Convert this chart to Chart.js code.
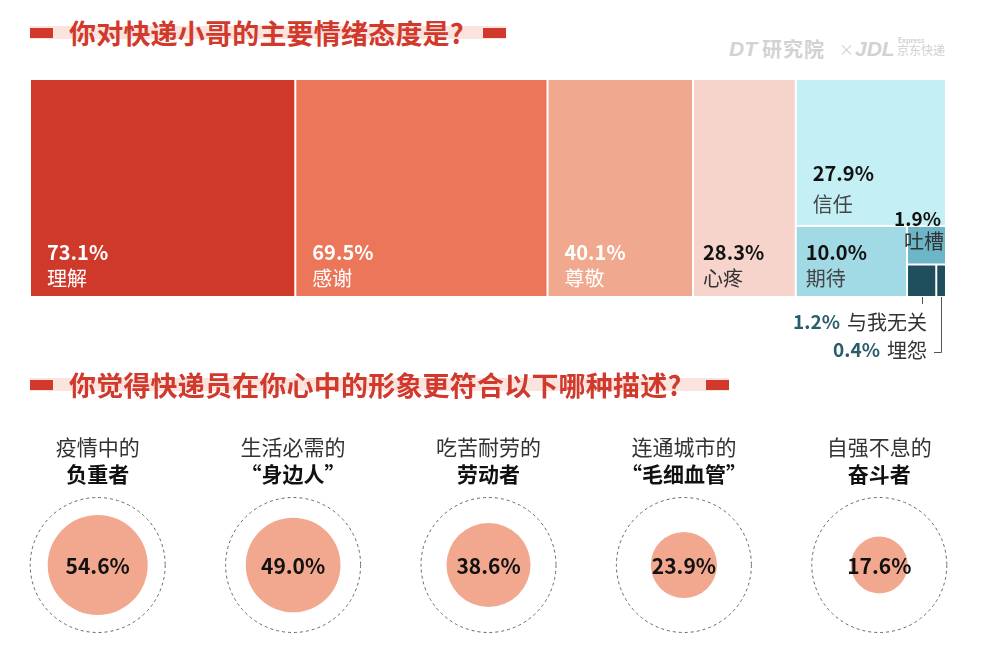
<!DOCTYPE html>
<html lang="zh-CN">
<head>
<meta charset="utf-8">
<script src="https://cdn.jsdelivr.net/npm/chart.js@4.4.1/dist/chart.umd.min.js"></script>
<style>
    html, body { margin: 0; padding: 0; background: #fff; }
    body {
        width: 1000px; height: 651px; position: relative; overflow: hidden;
        font-family: "Noto Sans CJK SC", "Noto Sans", sans-serif;
    }
    .title { position: absolute; left: 30px; height: 40px; }
    .title .band { position: absolute; left: 0; right: 0; top: 13px; height: 13px; background: #fbe3de; }
    .title .blk { position: absolute; top: 15px; width: 23px; height: 10px; background: #d0392b; }
    .title .blk.l { left: 0; }
    .title .blk.r { right: 0; }
    .title .txt {
        position: absolute; left: 39px; top: 0; line-height: 40px; white-space: nowrap;
        font-size: 27px; font-weight: bold; color: #d0392b; letter-spacing: 0.2px;
    }
    #mark { position: absolute; left: 729px; top: 34px; height: 30px; color: #d2d2d2; white-space: nowrap; }
    #mark span { position: absolute; top: 0; line-height: 30px; font-weight: bold; }
    .chartBox { position: absolute; left: 0; width: 1000px; }
</style>
</head>
<body>

<div class="title" style="top:13px; width:476px;">
    <div class="band"></div><div class="blk l"></div><div class="blk r"></div>
    <div class="txt">你对快递小哥的主要情绪态度是?</div>
</div>

<div id="mark">
    <span style="left:0; font-size:21px; font-style:italic; font-family:'Liberation Sans', sans-serif;">DT</span>
    <span style="left:33px; font-size:20px; letter-spacing:1px;">研究院</span>
    <span style="left:110px; font-size:15px; font-weight:normal;">×</span>
    <span style="left:126px; font-size:21px; font-style:italic; font-family:'Liberation Sans', sans-serif;">JDL</span>
    <span style="left:169px; top:-9px; font-size:7px;">Express</span>
    <span style="left:168px; top:1px; font-size:12px; font-weight:normal; line-height:30px;">京东快递</span>
</div>

<div class="chartBox" style="top:60px; height:310px;"><canvas id="emotionChart"></canvas></div>

<div class="title" style="top:365px; width:699px;">
    <div class="band"></div><div class="blk l"></div><div class="blk r"></div>
    <div class="txt">你觉得快递员在你心中的形象更符合以下哪种描述?</div>
</div>

<div class="chartBox" style="top:420px; height:231px;"><canvas id="imageChart"></canvas></div>

<script>
// ---- data ----
const emotionLabels = ['理解', '感谢', '尊敬', '心疼', '信任', '期待', '吐槽', '与我无关', '埋怨'];
const emotionValues = [73.1, 69.5, 40.1, 28.3, 27.9, 10.0, 1.9, 1.2, 0.4];

const imageLine1 = ['疫情中的', '生活必需的', '吃苦耐劳的', '连通城市的', '自强不息的'];
const imageLine2 = ['负重者', '“身边人”', '劳动者', '“毛细血管”', '奋斗者'];
const imageValues = [54.6, 49.0, 38.6, 23.9, 17.6];

// ---- styles ----
const FONT = '"Noto Sans CJK SC", "Noto Sans", sans-serif';
const rectColors = ['#ce392a', '#ec7659', '#f0a98f', '#f7d4cb', '#c4f0f5', '#a1dae4', '#6db6c7', '#1f4e5d', '#1f4e5d'];
const valueColors = ['#ffffff', '#ffffff', '#ffffff', '#111111', '#111111', '#111111', '#111111', '#2a5d6c', '#2a5d6c'];
const nameColors = ['#ffffff', '#ffffff', '#ffffff', '#333333', '#444444', '#444444', '#333333', '#333333', '#333333'];
// how each treemap cell is split off the remaining space: h = column, v = row
const splitDirs = ['h', 'h', 'h', 'h', 'v', 'h', 'v', 'h', 'h'];
const labelModes = ['inside', 'inside', 'inside', 'inside', 'insideHigh', 'inside', 'corner', 'below1', 'below2'];

const emotionTotal = emotionValues.reduce((a, b) => a + b, 0);

// slice layout in data units: x in [0, total], y in [0, 1]
function sliceLayout(values) {
    let x0 = 0, y0 = 0, x1 = emotionTotal, y1 = 1;
    let rest = emotionTotal;
    const out = [];
    values.forEach((v, i) => {
        const f = rest > 0 ? v / rest : 1;
        if (splitDirs[i] === 'h') {
            const xm = x0 + (x1 - x0) * f;
            out.push({ x0: x0, y0: y0, x1: xm, y1: y1 });
            x0 = xm;
        } else {
            const ym = y0 + (y1 - y0) * f;
            out.push({ x0: x0, y0: y0, x1: x1, y1: ym });
            y0 = ym;
        }
        rest -= v;
    });
    return out;
}

const emotionRects = sliceLayout(emotionValues);

function pct(v) { return v.toFixed(1) + '%'; }

// draws the treemap cells and their labels through the chart scales
const treemapPlugin = {
    id: 'treemapCells',
    afterDatasetsDraw(chart) {
        const { ctx, scales: { x, y } } = chart;
        const px = emotionRects.map(r => ({
            l: x.getPixelForValue(r.x0), r: x.getPixelForValue(r.x1),
            t: y.getPixelForValue(r.y0), b: y.getPixelForValue(r.y1)
        }));
        ctx.save();
        px.forEach((p, i) => {
            ctx.fillStyle = rectColors[i];
            ctx.fillRect(p.l + 1, p.t + 1, p.r - p.l - 2, p.b - p.t - 2);
        });

        ctx.textBaseline = 'middle';
        px.forEach((p, i) => {
            const val = pct(emotionValues[i]);
            const name = emotionLabels[i];
            const mode = labelModes[i];
            if (mode === 'inside' || mode === 'insideHigh') {
                const padX = (p.r - p.l) > 145 ? 17 : 10;
                const dv = mode === 'inside' ? 45 : 53;
                const dn = mode === 'inside' ? 19 : 22;
                ctx.textAlign = 'left';
                ctx.font = 'bold 20px ' + FONT;
                ctx.fillStyle = valueColors[i];
                ctx.fillText(val, p.l + padX, p.b - dv);
                ctx.font = '20px ' + FONT;
                ctx.fillStyle = nameColors[i];
                ctx.fillText(name, p.l + padX, p.b - dn);
            } else if (mode === 'corner') {
                ctx.textAlign = 'right';
                ctx.font = 'bold 19px ' + FONT;
                ctx.fillStyle = valueColors[i];
                ctx.fillText(val, p.r - 5, p.t - 7);
                ctx.font = '20px ' + FONT;
                ctx.fillStyle = nameColors[i];
                ctx.fillText(name, p.r - 2, p.t + 15);
            } else {
                const xr = chart.chartArea.right - 19;
                const cx = (p.l + p.r) / 2;
                const ty = mode === 'below1' ? chart.chartArea.bottom + 25 : chart.chartArea.bottom + 53;
                ctx.strokeStyle = '#555';
                ctx.lineWidth = 1;
                ctx.beginPath();
                if (mode === 'below1') {
                    ctx.moveTo(Math.round(cx) + 0.5, p.b);
                    ctx.lineTo(Math.round(cx) + 0.5, p.b + 7);
                } else {
                    ctx.moveTo(Math.round(cx) + 0.5, p.b);
                    ctx.lineTo(Math.round(cx) + 0.5, ty + 2.5);
                    ctx.lineTo(xr + 7, ty + 2.5);
                }
                ctx.stroke();
                ctx.textAlign = 'right';
                ctx.font = '20px ' + FONT;
                ctx.fillStyle = nameColors[i];
                ctx.fillText(name, xr, ty);
                const w = ctx.measureText(name).width;
                ctx.font = 'bold 19px ' + FONT;
                ctx.fillStyle = valueColors[i];
                ctx.fillText(val, xr - w - 7, ty);
            }
        });
        ctx.restore();
    }
};

new Chart(document.getElementById('emotionChart'), {
    type: 'scatter',
    data: {
        labels: emotionLabels,
        datasets: [{
            data: emotionRects.map((r, i) => ({ x: (r.x0 + r.x1) / 2, y: (r.y0 + r.y1) / 2, v: emotionValues[i] })),
            pointRadius: 0,
            pointHoverRadius: 0
        }]
    },
    options: {
        responsive: true,
        maintainAspectRatio: false,
        animation: false,
        layout: { autoPadding: false, padding: { left: 30, right: 54, top: 19, bottom: 73 } },
        plugins: { legend: { display: false }, tooltip: { enabled: false } },
        scales: {
            x: { type: 'linear', display: false, min: 0, max: emotionTotal },
            y: { type: 'linear', display: false, min: 0, max: 1, reverse: true }
        }
    },
    plugins: [treemapPlugin]
});

// ---- bottom bubbles ----
const maxImage = Math.max(...imageValues);
const maxRadius = 50;

const dashPlugin = {
    id: 'dashRings',
    beforeDatasetDraw(chart, args) {
        if (args.index === 0) chart.ctx.setLineDash([3, 3]);
    },
    afterDatasetDraw(chart, args) {
        if (args.index === 0) chart.ctx.setLineDash([]);
    },
    afterDatasetsDraw(chart) {
        const { ctx } = chart;
        const meta = chart.getDatasetMeta(1);
        ctx.save();
        ctx.textAlign = 'center';
        ctx.textBaseline = 'middle';
        meta.data.forEach((pt, i) => {
            ctx.font = 'bold 21px ' + FONT;
            ctx.fillStyle = '#111';
            ctx.fillText(pct(imageValues[i]), pt.x, pt.y + 1);
            ctx.font = '21px ' + FONT;
            ctx.fillStyle = '#333';
            ctx.fillText(imageLine1[i], pt.x, pt.y - 118);
            ctx.font = 'bold 21px ' + FONT;
            ctx.fillStyle = '#111';
            ctx.fillText(imageLine2[i], pt.x, pt.y - 91);
        });
        ctx.restore();
    }
};

new Chart(document.getElementById('imageChart'), {
    type: 'bubble',
    data: {
        labels: imageLine2,
        datasets: [{
            data: imageValues.map((v, i) => ({ x: i, y: 0, r: 67.5 })),
            backgroundColor: 'rgba(0,0,0,0)',
            borderColor: '#666',
            borderWidth: 1,
            hoverRadius: 0,
            clip: false
        }, {
            data: imageValues.map((v, i) => ({ x: i, y: 0, r: maxRadius * Math.sqrt(v / maxImage) })),
            backgroundColor: '#f2a88e',
            borderWidth: 0,
            hoverRadius: 0,
            clip: false
        }]
    },
    options: {
        responsive: true,
        maintainAspectRatio: false,
        animation: false,
        layout: { autoPadding: false, padding: { left: 0, right: 23, top: 70, bottom: 11 } },
        plugins: { legend: { display: false }, tooltip: { enabled: false } },
        scales: {
            x: { type: 'linear', display: false, min: -0.5, max: 4.5 },
            y: { type: 'linear', display: false, min: -1, max: 1 }
        }
    },
    plugins: [dashPlugin]
});
</script>
</body>
</html>
